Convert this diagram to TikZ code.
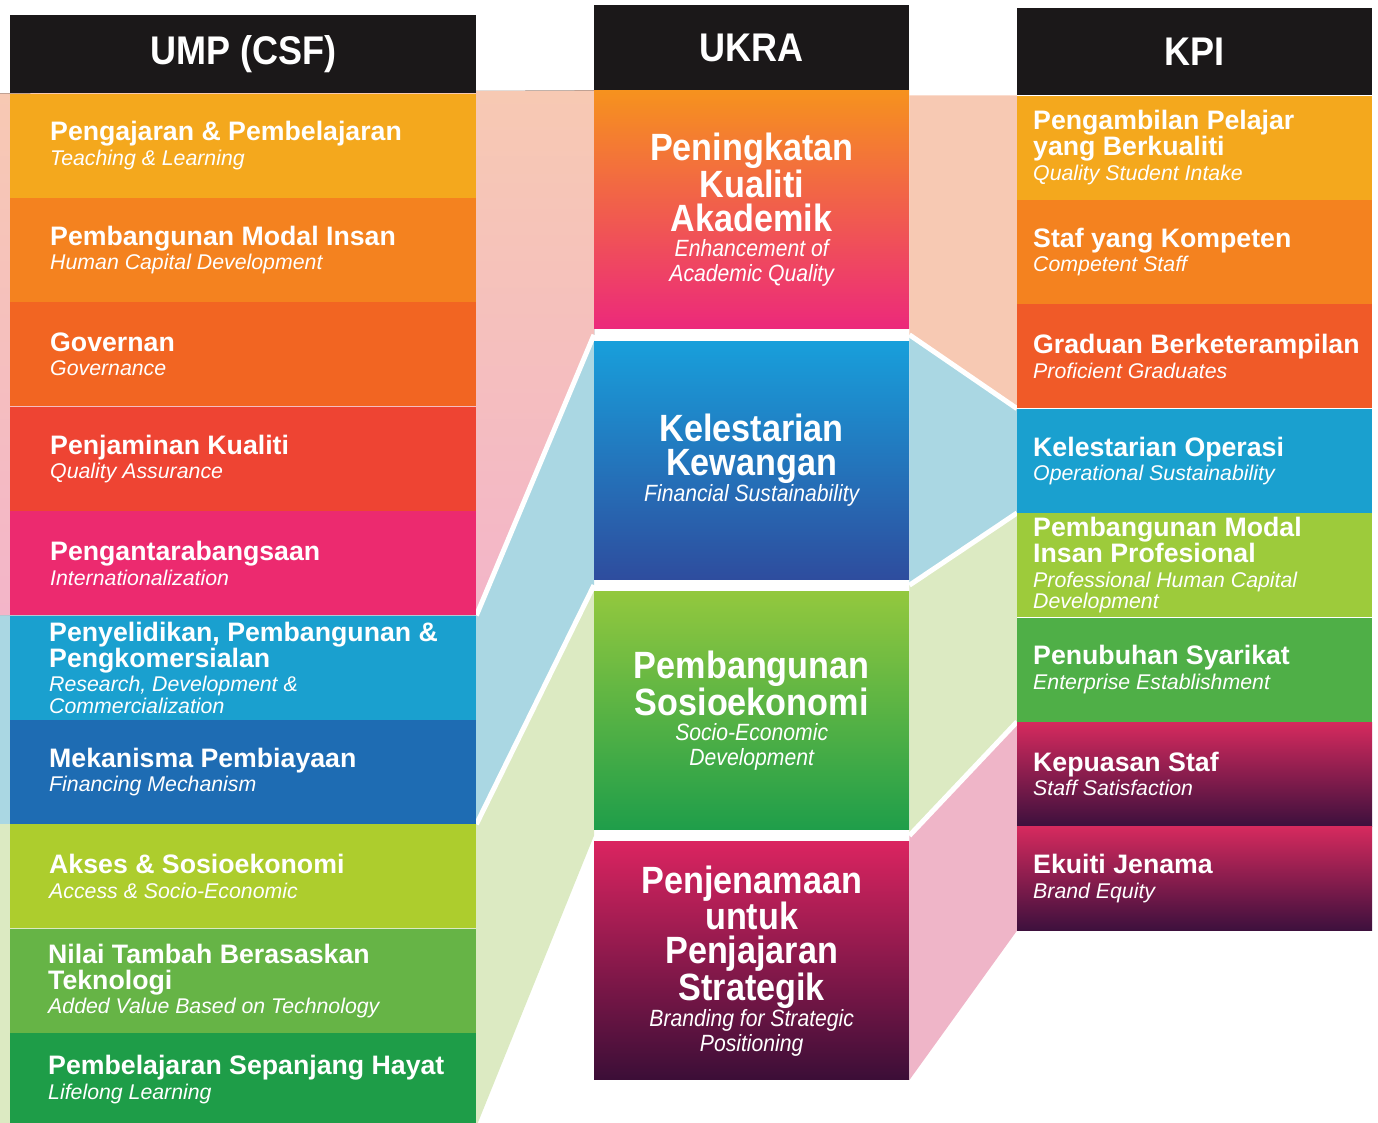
\documentclass[tikz,border=0pt]{standalone}
\usepackage{fontspec}
\setmainfont{Liberation Sans}
\newfontfamily\condfont[FakeStretch=0.9]{Liberation Sans}
\usetikzlibrary{positioning,backgrounds}

\definecolor{hdblack}{HTML}{1B1819}
\definecolor{cgold}{HTML}{F4A81D}
\definecolor{corange}{HTML}{F4821F}
\definecolor{cvermil}{HTML}{F26522}
\definecolor{cred}{HTML}{EE4433}
\definecolor{cpink}{HTML}{EC2A6F}
\definecolor{ccyan}{HTML}{1AA0CF}
\definecolor{cblue}{HTML}{1E6CB3}
\definecolor{clime}{HTML}{ADCD2D}
\definecolor{cgreen}{HTML}{66B446}
\definecolor{cdkgreen}{HTML}{1E9D48}
\definecolor{kvermil}{HTML}{F05A28}
\definecolor{klime}{HTML}{9DCB3B}
\definecolor{kgreen}{HTML}{4FAF47}
\definecolor{kmagenta}{HTML}{D62A5E}
\definecolor{kplum}{HTML}{3D103D}
\definecolor{uorange}{HTML}{F6921E}
\definecolor{ured}{HTML}{F15A40}
\definecolor{upink}{HTML}{EC297B}
\definecolor{ucyan}{HTML}{189FDB}
\definecolor{umidblue}{HTML}{2176C0}
\definecolor{unavy}{HTML}{2E4D9E}
\definecolor{ulime}{HTML}{93C83E}
\definecolor{ugreen}{HTML}{1F9E4A}
\definecolor{umagenta}{HTML}{DA2460}
\definecolor{uplum}{HTML}{3B0E37}
\definecolor{bpeach}{HTML}{F7C9B3}
\definecolor{bpink}{HTML}{F3B5C9}
\definecolor{bblue}{HTML}{AAD7E3}
\definecolor{bgreen}{HTML}{DCEAC2}
\definecolor{brose}{HTML}{EFB5C8}

% fixed word space in the current font (tikz's align keys set a 10pt one)
\newcommand{\fixspace}{\spaceskip=\fontdimen2\font\xspaceskip=\fontdimen2\font}
\newcommand{\rowtitle}[1]{{\fontsize{26.7}{26}\selectfont\bfseries\fixspace #1\par}}
\newcommand{\rowsub}[1]{{\vskip 3pt\fontsize{21.3}{21.5}\selectfont\itshape\fixspace #1\par}}
\newcommand{\ukratitle}[1]{{\condfont\fontsize{38}{34}\selectfont\bfseries\fixspace #1\par}}
\newcommand{\ukrasub}[1]{{\condfont\fontsize{23.5}{25}\selectfont\itshape\fixspace #1\par}}

\begin{document}
\begin{tikzpicture}[x=1pt,y=-1pt,node distance=0pt,
    head/.style={rectangle,fill=hdblack,text=white,inner sep=0pt,
      font=\condfont\fontsize{40}{40}\selectfont\bfseries},
    csfrow/.style={rectangle,minimum width=466pt,minimum height=104pt,inner sep=0pt},
    kpirow/.style={rectangle,minimum width=355pt,minimum height=104pt,inner sep=0pt},
    ukrabox/.style={rectangle,minimum width=315pt,minimum height=238pt,inner xsep=7.5pt,
      inner ysep=0pt,text width=300pt,align=center,text=white},
    lbl/.style={inner sep=0pt,text width=420pt,align=left,text=white},
    gapline/.style={draw=white,line width=5pt}]
    \useasboundingbox (0,0) rectangle (1378,1122);

    %UMP (CSF) column
    \node[head,minimum width=466pt,minimum height=78pt,anchor=north west] (csf_0) at (10,15) {UMP (CSF)};
    \node[csfrow,fill=cgold] (csf_1) [below =of csf_0] {};
    \node[csfrow,fill=corange] (csf_2) [below =of csf_1] {};
    \node[csfrow,fill=cvermil] (csf_3) [below =of csf_2] {};
    \node[csfrow,fill=cred] (csf_4) [below =of csf_3] {};
    \node[csfrow,fill=cpink] (csf_5) [below =of csf_4] {};
    \node[csfrow,fill=ccyan] (csf_6) [below =of csf_5] {};
    \node[csfrow,fill=cblue] (csf_7) [below =of csf_6] {};
    \node[csfrow,fill=clime] (csf_8) [below =of csf_7] {};
    \node[csfrow,fill=cgreen] (csf_9) [below =of csf_8] {};
    \node[csfrow,fill=cdkgreen,minimum height=93pt] (csf_10) [below =of csf_9] {};

    \node[lbl] (csf_1_t) [right =40pt of csf_1.west] {\rowtitle{Pengajaran \& Pembelajaran}\rowsub{Teaching \& Learning}};
    \node[lbl] (csf_2_t) [right =40pt of csf_2.west] {\rowtitle{Pembangunan Modal Insan}\rowsub{Human Capital Development}};
    \node[lbl] (csf_3_t) [right =40pt of csf_3.west] {\rowtitle{Governan}\rowsub{Governance}};
    \node[lbl] (csf_4_t) [right =40pt of csf_4.west] {\rowtitle{Penjaminan Kualiti}\rowsub{Quality Assurance}};
    \node[lbl] (csf_5_t) [right =40pt of csf_5.west] {\rowtitle{Pengantarabangsaan}\rowsub{Internationalization}};
    \node[lbl] (csf_6_t) [right =39pt of csf_6.west] {\rowtitle{Penyelidikan, Pembangunan \&\\Pengkomersialan}\rowsub{Research, Development \&\\Commercialization}};
    \node[lbl] (csf_7_t) [right =39pt of csf_7.west] {\rowtitle{Mekanisma Pembiayaan}\rowsub{Financing Mechanism}};
    \node[lbl] (csf_8_t) [right =39pt of csf_8.west] {\rowtitle{Akses \& Sosioekonomi}\rowsub{Access \& Socio-Economic}};
    \node[lbl] (csf_9_t) [right =38pt of csf_9.west] {\rowtitle{Nilai Tambah Berasaskan\\Teknologi}\rowsub{Added Value Based on Technology}};
    \node[lbl] (csf_10_t) [right =38pt of csf_10.west] {\rowtitle{Pembelajaran Sepanjang Hayat}\rowsub{Lifelong Learning}};

    %UKRA column
    \node[head,minimum width=315pt,minimum height=85pt,anchor=north west] (ukra_0) at (594,5) {UKRA};
    \node[ukrabox,top color=uorange,middle color=ured,bottom color=upink] (ukra_1) [below =of ukra_0]
      {\ukratitle{Peningkatan\\Kualiti\\Akademik}\ukrasub{Enhancement of\\Academic Quality}};
    \node[ukrabox,top color=ucyan,middle color=umidblue,bottom color=unavy] (ukra_2) [below =12pt of ukra_1]
      {\ukratitle{Kelestarian\\Kewangan}\ukrasub{Financial Sustainability}\vskip 18pt};
    \node[ukrabox,top color=ulime,bottom color=ugreen] (ukra_3) [below =12pt of ukra_2]
      {\ukratitle{Pembangunan\\Sosioekonomi}\ukrasub{Socio-Economic\\Development}};
    \node[ukrabox,top color=umagenta,bottom color=uplum] (ukra_4) [below =12pt of ukra_3]
      {\ukratitle{Penjenamaan\\untuk\\Penjajaran\\Strategik}\ukrasub{Branding for Strategic\\Positioning}};

    %KPI column
    \node[head,minimum width=355pt,minimum height=87pt,anchor=north west] (kpi_0) at (1017,8) {KPI};
    \node[kpirow,fill=cgold] (kpi_1) [below =of kpi_0] {};
    \node[kpirow,fill=corange] (kpi_2) [below =of kpi_1] {};
    \node[kpirow,fill=kvermil] (kpi_3) [below =of kpi_2] {};
    \node[kpirow,fill=ccyan] (kpi_4) [below =of kpi_3] {};
    \node[kpirow,fill=klime] (kpi_5) [below =of kpi_4] {};
    \node[kpirow,fill=kgreen] (kpi_6) [below =of kpi_5] {};
    \node[kpirow,top color=kmagenta,bottom color=kplum] (kpi_7) [below =of kpi_6] {};
    \node[kpirow,top color=kmagenta,bottom color=kplum] (kpi_8) [below =of kpi_7] {};

    \node[lbl,text width=345pt] (kpi_1_t) [right =16pt of kpi_1.west] {\rowtitle{Pengambilan Pelajar\\yang Berkualiti}\rowsub{Quality Student Intake}};
    \node[lbl,text width=345pt] (kpi_2_t) [right =16pt of kpi_2.west] {\rowtitle{Staf yang Kompeten}\rowsub{Competent Staff}};
    \node[lbl,text width=345pt] (kpi_3_t) [right =16pt of kpi_3.west] {\rowtitle{Graduan Berketerampilan}\rowsub{Proficient Graduates}};
    \node[lbl,text width=345pt] (kpi_4_t) [right =16pt of kpi_4.west] {\rowtitle{Kelestarian Operasi}\rowsub{Operational Sustainability}};
    \node[lbl,text width=345pt] (kpi_5_t) [right =16pt of kpi_5.west] {\rowtitle{Pembangunan Modal\\Insan Profesional}\rowsub{Professional Human Capital\\Development}};
    \node[lbl,text width=345pt] (kpi_6_t) [right =16pt of kpi_6.west] {\rowtitle{Penubuhan Syarikat}\rowsub{Enterprise Establishment}};
    \node[lbl,text width=345pt] (kpi_7_t) [right =16pt of kpi_7.west] {\rowtitle{Kepuasan Staf}\rowsub{Staff Satisfaction}};
    \node[lbl,text width=345pt] (kpi_8_t) [right =16pt of kpi_8.west] {\rowtitle{Ekuiti Jenama}\rowsub{Brand Equity}};

    \begin{scope}[on background layer]
    %bands csf -> ukra
    \fill[top color=bpeach,bottom color=bpink] ([xshift=-10pt]csf_1.north west) -- (ukra_1.north west)
      -- ([yshift=-6pt]ukra_1.south west) -- (csf_5.south east) -- ([xshift=-10pt]csf_5.south west) -- cycle;
    \fill[bblue] ([xshift=-10pt]csf_6.north west) -- (csf_6.north east) -- ([yshift=-6pt]ukra_1.south west)
      -- ([yshift=-6pt]ukra_2.south west) -- (csf_7.south east) -- ([xshift=-10pt]csf_7.south west) -- cycle;
    \fill[bgreen] ([xshift=-10pt]csf_8.north west) -- (csf_8.north east) -- ([yshift=-6pt]ukra_2.south west)
      -- ([yshift=-6pt]ukra_3.south west) -- (csf_10.south east) -- ([xshift=-10pt]csf_10.south west) -- cycle;

    %bands ukra -> kpi
    \fill[bpeach] (ukra_1.north east |- kpi_1.north west) -- (kpi_1.north west) -- (kpi_3.south west)
      -- ([yshift=-6pt]ukra_1.south east) -- cycle;
    \fill[bblue] ([yshift=-6pt]ukra_1.south east) -- (kpi_4.north west) -- (kpi_4.south west)
      -- ([yshift=-6pt]ukra_2.south east) -- cycle;
    \fill[bgreen] ([yshift=-6pt]ukra_2.south east) -- (kpi_5.north west) -- (kpi_6.south west)
      -- ([yshift=-6pt]ukra_3.south east) -- cycle;
    \fill[brose] ([yshift=-6pt]ukra_3.south east) -- (kpi_7.north west) -- (kpi_8.south west)
      -- (ukra_4.south east) -- cycle;

    %white gaps
    \draw[gapline] (csf_5.south east) -- ([yshift=-6pt]ukra_1.south west);
    \draw[gapline] (csf_7.south east) -- ([yshift=-6pt]ukra_2.south west);
    \draw[gapline] ([yshift=-6pt]ukra_1.south east) -- (kpi_3.south west);
    \draw[gapline] ([yshift=-6pt]ukra_2.south east) -- (kpi_4.south west);
    \draw[gapline] ([yshift=-6pt]ukra_3.south east) -- (kpi_6.south west);
    \end{scope}
\end{tikzpicture}
\end{document}
